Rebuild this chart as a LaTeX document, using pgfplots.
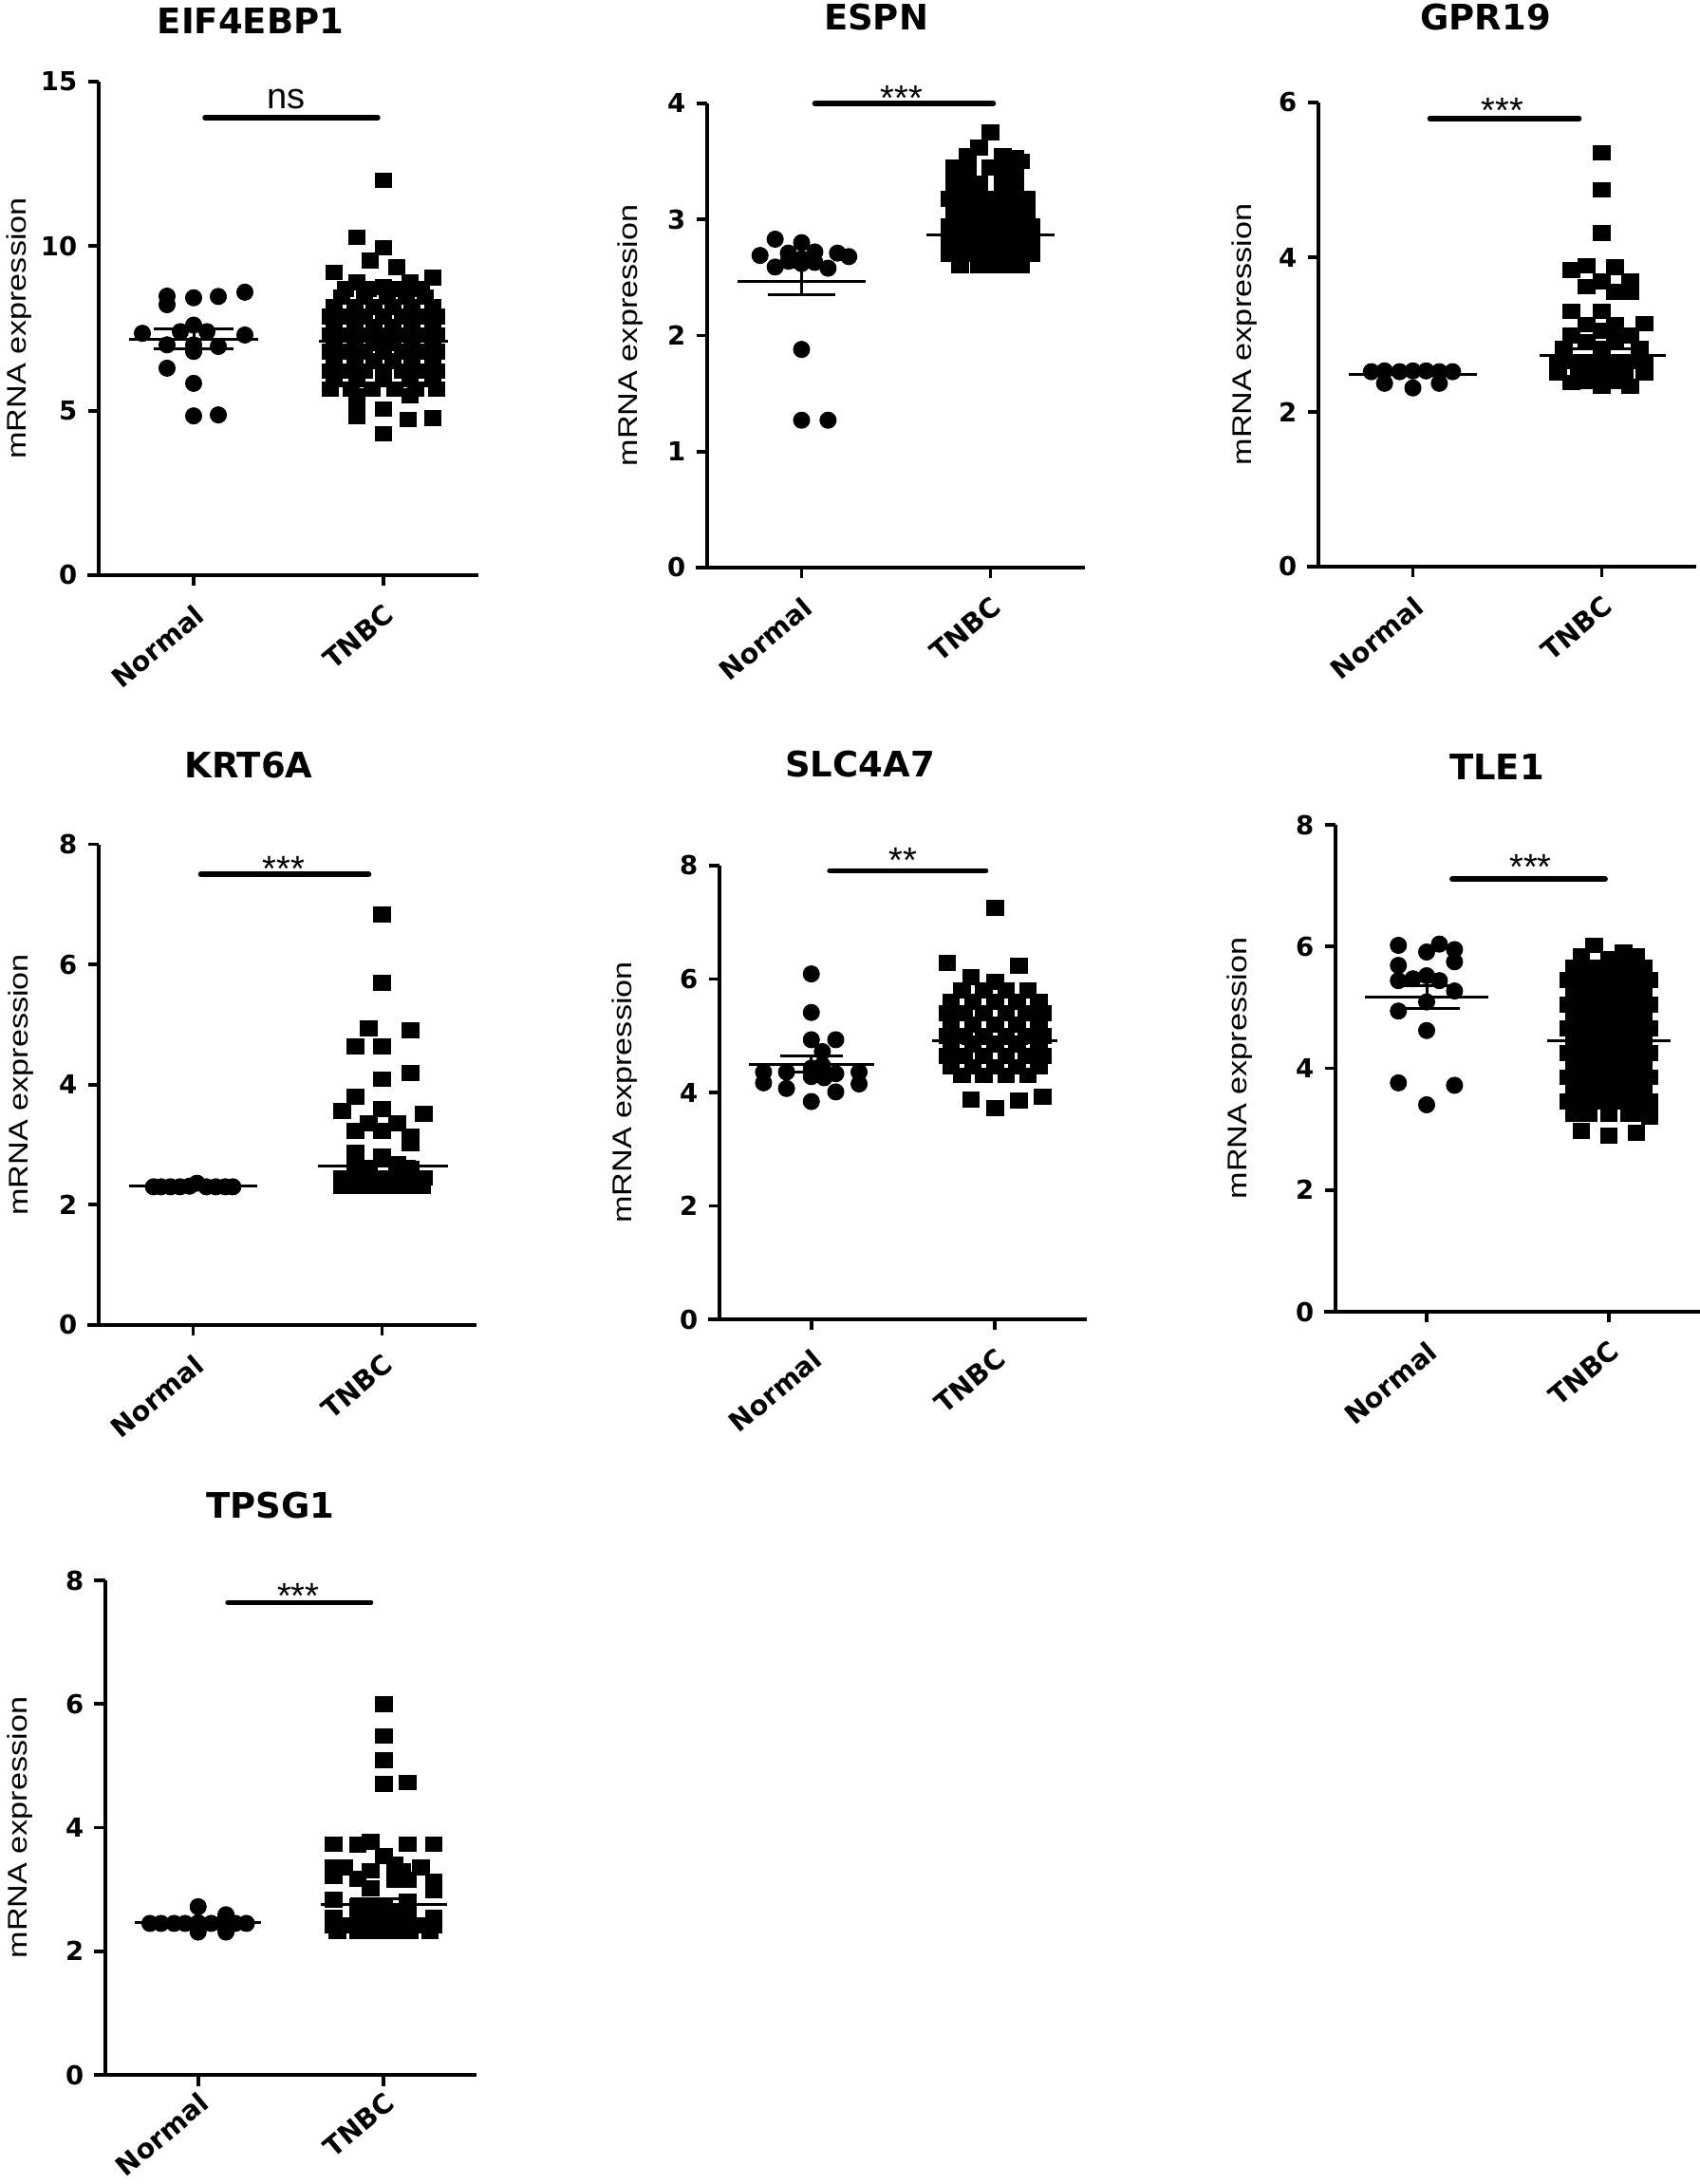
\documentclass[border=0pt]{standalone}
\usepackage{pgfplots}
\pgfplotsset{compat=1.18}
\usepackage{fontspec}
\setmainfont{Liberation Sans}
\newfontfamily\djv{DejaVu Sans}
\newcommand\tickfont{\djv\bfseries\fontsize{11}{13}\selectfont}
\newcommand\xtickfont{\djv\bfseries\fontsize{11.4}{13}\selectfont}
\newcommand\titlefont{\djv\bfseries\fontsize{14.8}{17}\selectfont}
\newcommand\labfont{\fontsize{11.4}{13}\selectfont}
\newcommand\starfont{\fontsize{15.2}{17}\selectfont}
\def\xlshift{-4pt}
\pgfplotsset{
 gp/.style={
  scale only axis, clip=false,
  axis lines*=left,
  axis line style={line width=1.5pt},
  x axis line style={shorten <=-4.8pt},
  xmin=-0.5, xmax=1.5, ymin=0,
  xtick={0,1}, xticklabels={Normal,TNBC},
  tick align=outside, major tick length=4.6pt,
  tick style={line width=1.5pt, black},
  xticklabel style={font=\xtickfont, yshift=\xlshift, rotate=40, anchor=north east, inner sep=2pt},
  yticklabel style={font=\tickfont, xshift=-1pt},
  /pgf/number format/assume math mode=true,
  ylabel={\scalebox{1.2}[1]{mRNA expression}},
  ylabel style={font=\labfont, anchor=center},
 },
 normal/.style={only marks, mark=*, black, mark size=3.4pt, mark options={fill=black, draw=black}},
 tnbc/.style={only marks, mark=square*, black, mark size=3.5pt, mark options={yscale=0.9, fill=black, draw=black}},
 mline/.style={line width=1.2pt, black, unbounded coords=jump},
 sig/.style={line width=2.2pt, black, line cap=round},
}
\begin{document}
\begin{tikzpicture}
\path (0,0) rectangle (716.4pt,920.4pt);
% ---------------- EIF4EBP1
\begin{axis}[gp, at={(41.6pt,678pt)}, anchor=south west, width=160pt, height=208pt,
  ymax=15, ytick={0,5,10,15}, ylabel style={at={(axis description cs:-0.21,0.5)}}]
\addplot[normal] coordinates {(-0.14,8.48) (-0.14,8.22) (0,8.43) (0.13,8.47) (0.27,8.6)
(-0.27,7.35) (-0.07,7.4) (0,7.6) (0.07,7.4) (0.27,7.3)
(-0.14,7.0) (0,7.0) (0.13,6.95) (0,6.8)
(-0.14,6.29) (0,5.83) (0,4.84) (0.13,4.87)};
\addplot[tnbc] coordinates {(1,12.0) (0.86,10.27) (1,9.95) (0.93,9.56) (1.07,9.37) (0.74,9.2) (1.26,9.04) (0.86,8.9) (1.14,8.9)
(0.8,8.7) (0.92,8.7) (1,8.75) (1.08,8.7) (1.2,8.7)
(0.78,8.45) (0.9,8.45) (1.02,8.45) (1.12,8.45) (1.22,8.45)
(0.74,8.15) (0.85,8.15) (0.95,8.15) (1.05,8.15) (1.15,8.15) (1.26,8.15)
(0.72,7.85) (0.81,7.85) (0.9,7.85) (1,7.85) (1.1,7.85) (1.19,7.85) (1.28,7.85)
(0.74,7.55) (0.85,7.55) (0.95,7.55) (1.05,7.55) (1.15,7.55) (1.26,7.55)
(0.72,7.3) (0.81,7.3) (0.9,7.3) (1,7.3) (1.1,7.3) (1.19,7.3) (1.28,7.3)
(0.74,7.05) (0.85,7.05) (0.95,7.05) (1.05,7.05) (1.15,7.05) (1.26,7.05)
(0.72,6.8) (0.81,6.8) (0.9,6.8) (1,6.8) (1.1,6.8) (1.19,6.8) (1.28,6.8)
(0.74,6.5) (0.85,6.5) (0.95,6.5) (1.05,6.5) (1.15,6.5) (1.26,6.5)
(0.72,6.2) (0.81,6.2) (0.9,6.2) (1,6.2) (1.1,6.2) (1.19,6.2) (1.28,6.2)
(0.74,5.95) (0.86,5.95) (1,5.95) (1.14,5.95) (1.26,5.95)
(0.72,5.65) (0.83,5.65) (0.94,5.65) (1.06,5.65) (1.17,5.65) (1.28,5.65)
(0.86,5.45) (1.14,5.45)
(0.86,5.1) (0.86,4.84) (1,5.05) (1.13,4.73) (1.26,4.78) (1,4.3)};
\addplot[mline] coordinates {(-0.34,7.18) (0.34,7.18) (0,nan) (-0.21,6.89) (0.21,6.89) (0,nan) (-0.21,7.48) (0.21,7.48) (0,nan) (0,6.89) (0,7.48)};
\addplot[mline] coordinates {(0.66,7.12) (1.34,7.12) (1,nan) (0.79,6.98) (1.21,6.98) (1,nan) (0.79,7.28) (1.21,7.28) (1,nan) (1,6.98) (1,7.28)};
\addplot[sig] coordinates {(0.06,13.9) (0.97,13.9)};
\node[font=\starfont, anchor=base] at (axis cs:0.487,14.17) {ns};
\end{axis}
% ---------------- ESPN
\begin{axis}[gp, at={(298pt,681.2pt)}, anchor=south west, width=159.2pt, height=195.6pt,
  ymax=4, ytick={0,1,2,3,4}, ylabel style={at={(axis description cs:-0.2035,0.5)}}]
\addplot[normal] coordinates {(-0.14,2.83) (0,2.8) (-0.22,2.69) (-0.07,2.71) (0.07,2.72) (0.19,2.71) (0.25,2.68)
(-0.14,2.59) (-0.07,2.64) (0,2.62) (0.07,2.63) (0.14,2.58) (0,2.66)
(0,1.88) (0,1.27) (0.14,1.27)};
\addplot[tnbc] coordinates {(1,3.75) (0.94,3.62) (0.88,3.55) (1.065,3.55) (1.13,3.53) (1.16,3.5)
(0.81,3.45) (0.88,3.45) (1,3.45) (1.065,3.43) (1.13,3.43)
(0.81,3.31) (0.88,3.31) (0.94,3.31) (1.065,3.31) (1.13,3.31)
(0.785,3.18) (0.88,3.18) (0.94,3.18) (1,3.18) (1.065,3.18) (1.13,3.18) (1.19,3.18)
(0.81,3.05) (0.88,3.05) (0.94,3.05) (1,3.05) (1.065,3.05) (1.13,3.05) (1.19,3.05)
(0.785,2.94) (0.88,2.94) (0.94,2.94) (1,2.94) (1.065,2.94) (1.13,2.94) (1.215,2.94)
(0.785,2.81) (0.84,2.81) (0.91,2.81) (0.97,2.81) (1.03,2.81) (1.09,2.81) (1.16,2.81) (1.215,2.81)
(0.785,2.7) (0.88,2.7) (0.94,2.7) (1,2.7) (1.065,2.7) (1.13,2.7) (1.215,2.7)
(0.84,2.6) (0.94,2.6) (1,2.6) (1.065,2.6) (1.16,2.6)};
\addplot[mline] coordinates {(-0.34,2.47) (0.34,2.47) (0,nan) (-0.18,2.35) (0.18,2.35) (0,nan) (-0.18,2.59) (0.18,2.59) (0,nan) (0,2.35) (0,2.59)};
\addplot[mline] coordinates {(0.66,2.87) (1.34,2.87) (1,nan) (0.82,2.84) (1.18,2.84) (1,nan) (0.82,2.9) (1.18,2.9)};
\addplot[sig] coordinates {(0.07,4.0) (1.015,4.0)};
\node[font=\starfont, anchor=base, yshift=-8.8pt] at (axis cs:0.53,4.12) {***};
\end{axis}
% ---------------- GPR19
\begin{axis}[gp, at={(555.6pt,681.6pt)}, anchor=south west, width=159.2pt, height=195.6pt,
  ymax=6, ytick={0,2,4,6}, ylabel style={at={(axis description cs:-0.196,0.5)}}]
\addplot[normal] coordinates {(-0.22,2.52) (-0.15,2.53) (-0.07,2.52) (0,2.53) (0.07,2.53) (0.14,2.52) (0.21,2.52) (-0.15,2.37) (0,2.31) (0.14,2.37)};
\addplot[tnbc] coordinates {(1,5.35) (1,4.87) (1,4.31)
(0.84,3.83) (0.92,3.89) (1.07,3.87) (1.15,3.69) (0.92,3.62) (1,3.69) (1.07,3.55) (1.15,3.55)
(0.84,3.3) (1,3.3) (0.92,3.13) (1.07,3.12) (1.225,3.14) (1,3.05)
(0.84,2.99) (0.8,2.82) (0.92,2.9) (1.07,2.92) (1.15,2.99) (1.2,2.82) (1,2.82)
(0.77,2.65) (0.84,2.65) (0.92,2.65) (1,2.65) (1.07,2.65) (1.15,2.65) (1.225,2.65)
(0.77,2.51) (0.88,2.51) (0.96,2.51) (1.04,2.51) (1.12,2.51) (1.225,2.51)
(0.84,2.38) (0.92,2.4) (1,2.33) (1.07,2.4) (1.15,2.33)};
\addplot[mline] coordinates {(-0.34,2.48) (0.34,2.48)};
\addplot[mline] coordinates {(0.67,2.73) (1.34,2.73) (1,nan) (0.82,2.65) (1.18,2.65) (1,nan) (0.82,2.81) (1.18,2.81)};
\addplot[sig] coordinates {(0.09,5.79) (0.88,5.79)};
\node[font=\starfont, anchor=base, yshift=-8.8pt] at (axis cs:0.474,6.0) {***};
\end{axis}
% ---------------- KRT6A
\begin{axis}[gp, at={(41.6pt,362pt)}, anchor=south west, width=159.2pt, height=202.6pt,
  ymax=8, ytick={0,2,4,6,8}, ylabel style={at={(axis description cs:-0.206,0.5)}}]
\addplot[normal] coordinates {(-0.21,2.3) (-0.17,2.3) (-0.12,2.3) (-0.07,2.3) (-0.02,2.31) (0.02,2.36) (0.07,2.3) (0.12,2.3) (0.17,2.3) (0.21,2.3)};
\addplot[tnbc] coordinates {(1,6.83) (1,5.7) (0.93,4.93) (1.15,4.9) (0.86,4.64) (1,4.64) (1,4.09) (1.15,4.19) (0.86,3.8) (0.79,3.56) (1,3.59) (1.22,3.52) (0.93,3.36) (1.08,3.36) (0.86,3.23) (1,3.23) (1.15,3.14) (1.15,3.02) (0.86,2.87) (1,2.8) (0.86,2.7) (1.08,2.68) (0.93,2.62) (1.15,2.6)
(0.79,2.45) (0.86,2.45) (0.93,2.45) (1,2.45) (1.08,2.45) (1.15,2.45) (1.22,2.45)
(0.79,2.31) (0.86,2.31) (0.93,2.31) (1,2.31) (1.08,2.31) (1.15,2.31) (1.21,2.31)};
\addplot[mline] coordinates {(-0.34,2.31) (0.34,2.31)};
\addplot[mline] coordinates {(0.66,2.64) (1.35,2.64) (1,nan) (0.82,2.55) (1.18,2.55) (1,nan) (0.82,2.73) (1.18,2.73)};
\addplot[sig] coordinates {(0.04,7.5) (0.93,7.5)};
\node[font=\starfont, anchor=base, yshift=-8.8pt] at (axis cs:0.48,7.73) {***};
\end{axis}
% ---------------- SLC4A7
\begin{axis}[gp, at={(303.2pt,364.4pt)}, anchor=south west, width=154.8pt, height=191.2pt,
  ymax=8, ytick={0,2,4,6,8}, ylabel style={at={(axis description cs:-0.258,0.5)}}]
\addplot[normal] coordinates {(-0.26,4.36) (-0.135,4.36) (0,4.43) (0.06,4.48) (0.133,4.33) (0.26,4.36) (-0.26,4.17) (-0.135,4.07) (0,4.28) (0.07,4.26) (0.133,4.01) (0.26,4.15) (0,3.84) (0,6.09) (0,5.41) (0,4.93) (0.133,4.93) (0.06,4.72)};
\addplot[tnbc] coordinates {(1,7.26) (0.74,6.28) (1.13,6.24) (0.87,6.03) (1,5.95)
(0.82,5.8) (0.94,5.8) (1.06,5.8) (1.18,5.8)
(0.76,5.6) (0.88,5.6) (1,5.6) (1.12,5.6) (1.24,5.6)
(0.74,5.4) (0.83,5.4) (0.94,5.4) (1.06,5.4) (1.17,5.4) (1.26,5.4)
(0.76,5.2) (0.88,5.2) (1,5.2) (1.12,5.2) (1.24,5.2)
(0.74,5.0) (0.83,5.0) (0.94,5.0) (1.06,5.0) (1.17,5.0) (1.26,5.0)
(0.76,4.85) (0.88,4.85) (1,4.85) (1.12,4.85) (1.24,4.85)
(0.74,4.65) (0.83,4.65) (0.94,4.65) (1.06,4.65) (1.17,4.65) (1.26,4.65)
(0.76,4.45) (0.88,4.45) (1,4.45) (1.12,4.45) (1.24,4.45)
(0.82,4.3) (0.94,4.3) (1.06,4.3) (1.18,4.3)
(0.87,3.87) (1,3.72) (1.13,3.86) (1.26,3.92)};
\addplot[mline] coordinates {(-0.34,4.5) (0.34,4.5) (0,nan) (-0.17,4.36) (0.17,4.36) (0,nan) (-0.17,4.64) (0.17,4.64) (0,nan) (0,4.36) (0,4.64)};
\addplot[mline] coordinates {(0.66,4.92) (1.34,4.92) (1,nan) (0.82,4.86) (1.18,4.86) (1,nan) (0.82,4.98) (1.18,4.98)};
\addplot[sig] coordinates {(0.1,7.91) (0.95,7.91)};
\node[font=\starfont, anchor=base, yshift=-8.8pt] at (axis cs:0.5,8.24) {**};
\end{axis}
% ---------------- TLE1
\begin{axis}[gp, at={(562.8pt,367.6pt)}, anchor=south west, width=153.6pt, height=205.2pt,
  ymax=8, ytick={0,2,4,6,8}, ylabel style={at={(axis description cs:-0.263,0.5)}}]
\addplot[normal] coordinates {(-0.155,6.02) (0,5.91) (0.07,6.04) (0.153,5.95) (0.153,5.75) (-0.155,5.69) (-0.155,5.44) (-0.075,5.47) (0,5.52) (0.07,5.44) (0.153,5.27) (0,5.09) (-0.155,4.94) (0,4.62) (-0.155,3.76) (0.153,3.72) (0,3.4)};
\addplot[tnbc] coordinates {(0.92,6.02) (1.15,5.85) (0.85,5.85) (1,5.8) (1.08,5.9)
(0.81,5.65) (0.89,5.65) (0.96,5.65) (1.04,5.65) (1.11,5.65) (1.19,5.65)
(0.775,5.45) (0.85,5.45) (0.925,5.45) (1,5.45) (1.075,5.45) (1.15,5.45) (1.225,5.45)
(0.81,5.25) (0.89,5.25) (0.96,5.25) (1.04,5.25) (1.11,5.25) (1.19,5.25)
(0.775,5.05) (0.85,5.05) (0.925,5.05) (1,5.05) (1.075,5.05) (1.15,5.05) (1.225,5.05)
(0.81,4.85) (0.89,4.85) (0.96,4.85) (1.04,4.85) (1.11,4.85) (1.19,4.85)
(0.775,4.65) (0.85,4.65) (0.925,4.65) (1,4.65) (1.075,4.65) (1.15,4.65) (1.225,4.65)
(0.81,4.45) (0.89,4.45) (0.96,4.45) (1.04,4.45) (1.11,4.45) (1.19,4.45)
(0.775,4.25) (0.85,4.25) (0.925,4.25) (1,4.25) (1.075,4.25) (1.15,4.25) (1.225,4.25)
(0.81,4.05) (0.89,4.05) (0.96,4.05) (1.04,4.05) (1.11,4.05) (1.19,4.05)
(0.775,3.85) (0.85,3.85) (0.925,3.85) (1,3.85) (1.075,3.85) (1.15,3.85) (1.225,3.85)
(0.81,3.65) (0.89,3.65) (0.96,3.65) (1.04,3.65) (1.11,3.65) (1.19,3.65)
(0.775,3.45) (0.85,3.45) (0.925,3.45) (1,3.45) (1.075,3.45) (1.15,3.45) (1.225,3.45)
(0.81,3.25) (0.89,3.25) (1,3.25) (1.11,3.25) (1.19,3.25) (1.225,3.2)
(0.85,2.97) (1,2.89) (1.15,2.94)};
\addplot[mline] coordinates {(-0.34,5.17) (0.34,5.17) (0,nan) (-0.18,4.98) (0.18,4.98) (0,nan) (-0.18,5.36) (0.18,5.36) (0,nan) (0,4.98) (0,5.36)};
\addplot[mline] coordinates {(0.66,4.46) (1.34,4.46) (1,nan) (0.82,4.39) (1.18,4.39) (1,nan) (0.82,4.53) (1.18,4.53)};
\addplot[sig] coordinates {(0.14,7.11) (0.98,7.11)};
\node[font=\starfont, anchor=base, yshift=-8.8pt] at (axis cs:0.57,7.45) {***};
\end{axis}
% ---------------- TPSG1
\def\xlshift{1pt}
\begin{axis}[gp, at={(44.4pt,46pt)}, anchor=south west, width=156.4pt, height=208.4pt,
  ymax=8, ytick={0,2,4,6,8}, ylabel style={at={(axis description cs:-0.23,0.5)}}]
\addplot[normal] coordinates {(-0.26,2.45) (-0.2,2.45) (-0.13,2.45) (-0.07,2.45) (0,2.46) (0.07,2.45) (0.13,2.45) (0.2,2.45) (0.26,2.45) (0,2.72) (0.15,2.59) (0,2.31) (0.15,2.31)};
\addplot[tnbc] coordinates {(1,6.0) (1,5.48) (1,5.09) (1,4.71) (1.13,4.73)
(0.73,3.73) (0.86,3.72) (0.93,3.77) (1.13,3.73) (1.27,3.73)
(1,3.54) (1.06,3.4)
(0.73,3.36) (0.79,3.36) (0.93,3.3) (1.2,3.36) (1.1,3.3)
(0.73,3.21) (0.86,3.17) (1.06,3.15) (1.27,3.13) (0.93,3.02) (1.27,2.98) (1.13,3.15)
(0.73,2.83) (0.86,2.72) (1.13,2.8) (1.06,2.65) (0.93,2.7) (1,2.75)
(0.73,2.55) (0.86,2.55) (0.93,2.55) (1,2.55) (1.07,2.55) (1.13,2.55) (1.27,2.55)
(0.73,2.42) (0.8,2.42) (0.86,2.42) (0.93,2.42) (1,2.42) (1.07,2.42) (1.14,2.42) (1.2,2.42) (1.27,2.42)
(0.75,2.32) (0.86,2.32) (0.93,2.32) (1,2.32) (1.07,2.32) (1.14,2.32) (1.25,2.32)};
\addplot[mline] coordinates {(-0.34,2.46) (0.34,2.46)};
\addplot[mline] coordinates {(0.66,2.76) (1.34,2.76) (1,nan) (0.82,2.67) (1.18,2.67) (1,nan) (0.82,2.85) (1.18,2.85)};
\addplot[sig] coordinates {(0.16,7.64) (0.93,7.64)};
\node[font=\starfont, anchor=base, yshift=-8.8pt] at (axis cs:0.54,7.88) {***};
\end{axis}
% ---------------- titles
\node[font=\titlefont] at (105.6pt,911.6pt) {EIF4EBP1};
\node[font=\titlefont] at (369.2pt,913.2pt) {ESPN};
\node[font=\titlefont] at (626pt,913.2pt) {GPR19};
\node[font=\titlefont] at (104.8pt,598pt) {KRT6A};
\node[font=\titlefont] at (362.4pt,598.4pt) {SLC4A7};
\node[font=\titlefont] at (630.8pt,597.2pt) {TLE1};
\node[font=\titlefont] at (114pt,286pt) {TPSG1};
\pgfresetboundingbox
\useasboundingbox (0,0) rectangle (716.4pt,920.4pt);
\end{tikzpicture}
\end{document}
